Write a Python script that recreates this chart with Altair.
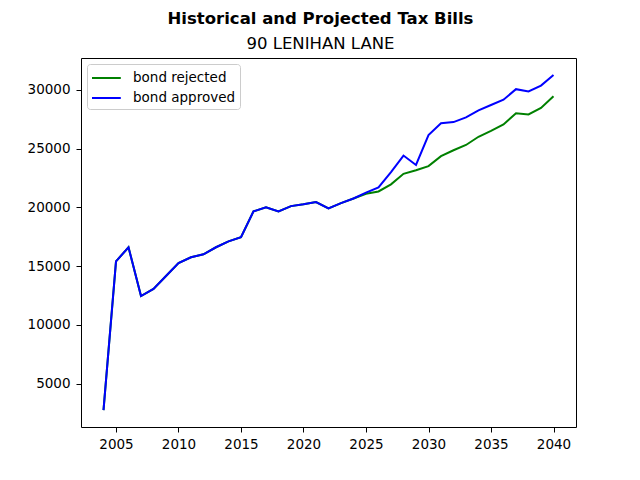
import altair as alt
import pandas as pd

years = list(range(2004, 2041))
approved = [2750, 15400, 16600, 12450, 13050, 14150, 15250, 15750, 16000, 16600,
            17100, 17450, 19650, 20000, 19650, 20100, 20250, 20450, 19900, 20350,
            20750, 21250, 21700, 23000, 24400, 23600, 26150, 27150, 27250, 27650,
            28250, 28700, 29150, 30050, 29850, 30350, 31250]
rejected = [2750, 15400, 16600, 12450, 13050, 14150, 15250, 15750, 16000, 16600,
            17100, 17450, 19650, 20000, 19650, 20100, 20250, 20450, 19900, 20350,
            20750, 21150, 21350, 21950, 22850, 23150, 23500, 24350, 24850, 25300,
            26000, 26500, 27050, 28000, 27900, 28450, 29450]
series_names = ["bond rejected", "bond approved"]
series_colors = ["#008000", "#0000ff"]

df_rej = pd.DataFrame({"year": years, "tax": rejected, "series": series_names[0]})
df_app = pd.DataFrame({"year": years, "tax": approved, "series": series_names[1]})

FONT = "DejaVu Sans"

x = alt.X("year:Q", scale=alt.Scale(domain=[2002.2, 2041.8], nice=False, zero=False),
          axis=alt.Axis(values=[2005, 2010, 2015, 2020, 2025, 2030, 2035, 2040], format="d",
                        title=None, grid=False, domain=False, tickColor="black", tickSize=5,
                        labelColor="black", labelFontSize=13.5, labelFont=FONT, labelPadding=5))
y = alt.Y("tax:Q", scale=alt.Scale(domain=[1310, 32700], nice=False, zero=False),
          axis=alt.Axis(values=[5000, 10000, 15000, 20000, 25000, 30000], format="d",
                        title=None, grid=False, domain=False, tickColor="black", tickSize=5,
                        labelColor="black", labelFontSize=13.5, labelFont=FONT, labelPadding=6))
color = alt.Color("series:N", scale=alt.Scale(domain=series_names, range=series_colors),
                  legend=alt.Legend(title=None, orient="top-left", offset=6,
                                    symbolType="M-1,0H2.2", symbolSize=324, symbolStrokeWidth=2,
                                    labelFontSize=13.5, labelFont=FONT, labelColor="black",
                                    strokeColor="#cccccc", cornerRadius=3, fillColor="white",
                                    padding=4, rowPadding=3, labelOffset=22))

l1 = alt.Chart(df_rej).mark_line(strokeWidth=2).encode(x=x, y=y, color=color)
l2 = alt.Chart(df_app).mark_line(strokeWidth=2).encode(x=x, y=y, color=color)

chart = alt.layer(l1, l2).properties(
    width=495, height=369,
    title=alt.TitleParams(text="Historical and Projected Tax Bills", subtitle="90 LENIHAN LANE",
                          font=FONT, fontSize=16.5, fontWeight="bold", color="black",
                          subtitleFont=FONT, subtitleFontSize=16.5, subtitleColor="black",
                          subtitlePadding=8, anchor="middle", offset=6, dx=-8),
    autosize=alt.AutoSizeParams(type="none"),
    padding={"left": 73, "top": 50, "right": 56, "bottom": 45},
).configure_view(stroke="black", strokeWidth=1)

chart.save("out.html", embed_options={"renderer": "svg", "actions": False})
